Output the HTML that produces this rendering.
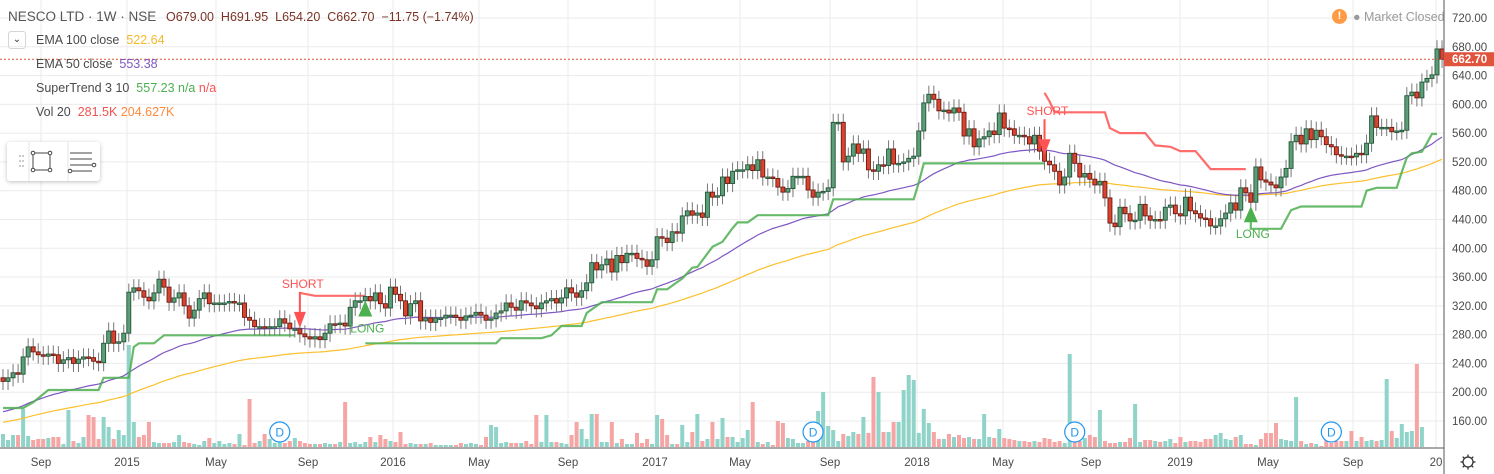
<!DOCTYPE html>
<html><head><meta charset="utf-8">
<style>
body{margin:0;background:#fff;font-family:"Liberation Sans",sans-serif;}
#wrap{position:relative;width:1494px;height:474px;overflow:hidden;background:#fff;}
svg{position:absolute;left:0;top:0;}
.leg{position:absolute;font-size:12.5px;color:#4a4a4a;white-space:nowrap;}
</style></head>
<body>
<div id="wrap">
<svg id="chart" width="1494" height="474"></svg>
<div class="leg" style="left:8px;top:9px;font-size:13.5px;color:#555">NESCO LTD · 1W · NSE <span style="margin-left:6px;color:#7a3326;font-size:12.5px">O679.00&nbsp; H691.95&nbsp; L654.20&nbsp; C662.70&nbsp; −11.75 (−1.74%)</span></div>
<div style="position:absolute;left:8px;top:31px;width:18px;height:18px;border:1px solid #d6d6d6;border-radius:3px;box-sizing:border-box;font-size:10px;text-align:center;line-height:16px;color:#333">&#8964;</div>
<div class="leg" style="left:36px;top:33px">EMA 100 close&nbsp; <span style="color:#f6b92b">522.64</span></div>
<div class="leg" style="left:36px;top:57px">EMA 50 close&nbsp; <span style="color:#7e57c2">553.38</span></div>
<div class="leg" style="left:36px;top:81px">SuperTrend 3 10&nbsp; <span style="color:#4caf50">557.23 n/a</span> <span style="color:#ff5252">n/a</span></div>
<div class="leg" style="left:36px;top:105px">Vol 20&nbsp; <span style="color:#ef5350">281.5K</span> <span style="color:#ff8a3c">204.627K</span></div>
<div style="position:absolute;left:7px;top:142px;width:93px;height:39px;background:#fff;border-radius:3px;box-shadow:0 1px 4px rgba(0,0,0,.25)">
 <svg width="93" height="39" style="position:relative">
  <g fill="#bbb"><circle cx="13" cy="14" r="1"/><circle cx="16" cy="14" r="1"/><circle cx="13" cy="19" r="1"/><circle cx="16" cy="19" r="1"/><circle cx="13" cy="24" r="1"/><circle cx="16" cy="24" r="1"/></g>
  <line x1="22" y1="0" x2="22" y2="39" stroke="#e6e6e6"/><line x1="61" y1="0" x2="61" y2="39" stroke="#e6e6e6"/>
  <g fill="#fff" stroke="#444"><rect x="26" y="11" width="17" height="17" fill="none"/><circle cx="26" cy="11" r="1.8"/><circle cx="43" cy="11" r="1.8"/><circle cx="26" cy="28" r="1.8"/><circle cx="43" cy="28" r="1.8"/></g>
  <g stroke="#444" fill="#fff"><line x1="63" y1="11" x2="85" y2="11"/><line x1="63" y1="17" x2="85" y2="17"/><line x1="63" y1="23" x2="85" y2="23"/><line x1="63" y1="29" x2="85" y2="29"/><circle cx="87" cy="23" r="1.8"/><circle cx="63" cy="29" r="1.8"/></g>
 </svg>
</div>
<div style="position:absolute;left:1332px;top:9px;width:15px;height:15px;border-radius:50%;background:#ff9b45;color:#fff;font-size:11px;font-weight:bold;text-align:center;line-height:15px">!</div>
<div class="leg" style="left:1353px;top:10px;color:#9a9a9a;font-size:12.5px">● Market Closed</div>
</div>
<script>
const closes=[215,220,227,225,249,263,256,252,250,253,252,240,245,248,240,246,249,248,243,241,268,285,268,270,282,339,
345,341,332,327,338,357,346,325,331,338,320,303,314,330,338,323,324,324,324,326,324,324,304,300,291,291,290,291,291,302,296,288,288,281,
277,274,277,273,282,295,294,296,292,318,327,327,333,327,338,323,317,346,336,327,306,323,327,299,303,297,303,303,307,307,304,300,306,307,311,307,300,302,310,313,324,318,314,327,324,320,316,324,327,330,324,331,345,338,332,341,352,
380,370,377,385,367,390,380,393,393,386,384,375,384,416,414,408,423,421,445,452,446,449,443,478,471,473,499,490,507,509,509,516,508,523,499,499,497,485,478,483,500,500,500,481,471,478,479,484,575,575,520,528,545,532,538,509,507,516,515,538,517,518,520,525,528,563,602,614,607,591,592,588,595,589,556,566,541,552,555,563,558,588,567,566,557,557,555,545,557,535,521,516,507,488,499,532,518,499,504,496,488,493,470,435,430,457,448,438,439,461,445,439,440,439,457,460,448,445,471,452,448,442,441,431,431,441,449,463,453,484,477,464,513,495,492,488,484,499,511,548,557,545,566,551,564,555,544,541,530,528,528,527,532,530,546,584,568,568,568,562,563,564,612,617,609,631,636,641,677,662.7];
const volumes=[13,7,12,12,38,11,7,8,8,9,10,10,3,37,6,4,10,32,30,8,30,20,8,17,12,102,25,10,12,25,5,4,4,4,5,12,5,4,3,2,6,9,4,6,3,4,3,13,2,48,4,6,13,8,4,6,4,6,9,6,4,3,3,3,4,3,3,5,45,4,5,3,5,10,5,12,8,6,5,15,3,4,3,3,3,4,2,2,2,2,2,4,3,4,3,2,10,22,20,4,5,4,4,4,6,3,32,5,32,5,5,4,3,12,25,18,8,33,33,5,5,25,4,8,3,3,14,4,8,3,32,28,12,3,3,22,5,15,33,6,8,
25,8,29,10,10,5,9,17,45,5,3,5,2,26,24,9,8,4,4,6,20,36,55,21,17,6,13,11,15,13,30,14,70,55,15,15,25,25,57,72,67,14,38,24,15,8,8,13,10,12,9,10,8,8,33,10,9,18,9,8,7,6,6,5,6,5,9,8,5,6,4,93,13,6,9,12,10,37,6,4,4,5,5,9,43,5,7,7,6,5,6,8,4,10,5,6,6,5,8,8,12,14,8,7,10,12,3,3,2,8,14,14,24,8,7,6,50,6,3,4,3,1,7,4,6,6,6,16,6,10,6,7,6,7,68,16,9,23,15,16,83,20];
const stGreen1=[[0,178],[4,178],[6,186],[9,203],[19,203],[20,220],[25,220],[26,263],[27,268],[30,268],[32,279],[58,279]];
const stRed1=[[59,338],[62,334],[72,334]];
const stGreen2=[[72,268],[74,268],[98,268],[99,275],[107,275],[109,279],[111,292],[115,292],[116,310],[119,325],[129,325],[130,343],[132,343],[134,353],[135,358],[137,373],[138,374],[141,402],[143,409],[145,428],[146,436],[148,436],[150,446],[164,446],[165,468],[181,468],[182,491],[183,518],[207,518]];
const stRed2=[[207,616],[208,604],[209,589],[219,589],[220,567],[222,560],[227,560],[229,543],[232,541],[234,535],[237,535],[240,510],[247,510]];
const stGreen3=[[248,450],[248,427],[254,427],[256,453],[258,458],[270,458],[271,480],[273,484],[277,484],[278,506],[279,526],[280,532],[282,534],[283,546],[284,559],[285,559]];
const priceTicks=[160,200,240,280,320,360,400,440,480,520,560,600,640,680,720];
const timeLabels=[["Sep",41],["2015",127],["May",216],["Sep",308],["2016",393],["May",479],["Sep",568],["2017",655],["May",740],["Sep",830],["2018",917],["May",1003],["Sep",1091],["2019",1180],["May",1268],["Sep",1353],["20",1436]];
const signals=[["SHORT",59,"short"],["LONG",72,"long"],["SHORT",207,"short"],["LONG",248,"long"]];
const divIdx=[55,161,213,264];

const NS="http://www.w3.org/2000/svg";
const svg=document.getElementById('chart');
const n=closes.length;
function X(i){return 3+i*(1434/(285));}
function Y(p){return 18+(720-p)*0.7196;}
function mk(t,a,parent){const e=document.createElementNS(NS,t);for(const k in a)e.setAttribute(k,a[k]);(parent||svg).appendChild(e);return e;}
priceTicks.forEach(p=>{const l=mk('line',{x1:0,x2:1444,y1:Y(p),y2:Y(p),stroke:'#ebebeb'});

});
timeLabels.forEach(t=>{const l=mk('line',{x1:t[1],x2:t[1],y1:0,y2:448,stroke:'#ebebeb'});

});
const volScale=1;
for(let i=0;i<n&&i<volumes.length;i++){
 const o=i?closes[i-1]:closes[0]-5;const up=closes[i]>=o;
 const h=volumes[i]*volScale;
 const r=mk('rect',{x:X(i)-2,y:447-h,width:4,height:h,fill:up?'#8fd3c9':'#f5a5a3'});
 
 
}
function ema(seed,len){const k=2/(len+1);let e=seed;return closes.map(c=>(e=e+k*(c-e)));}
const e100=ema(157,100),e50=ema(171,50);
function path(vals){return vals.map((v,i)=>(i?'L':'M')+X(i).toFixed(1)+' '+Y(v).toFixed(1)).join(' ');}
const p100=mk('path',{d:path(e100),stroke:'#fbc02d',fill:'none','stroke-width':1.2});


const p50=mk('path',{d:path(e50),stroke:'#7e57c2',fill:'none','stroke-width':1.2});


function stPath(pts,col,name){const d=pts.map((p,j)=>(j?'L':'M')+X(p[0]).toFixed(1)+' '+Y(p[1]).toFixed(1)).join(' ');
 const e=mk('path',{d:d,stroke:col,fill:'none','stroke-width':2.2,'stroke-opacity':0.85});
 
 }
stPath(stGreen1,'#4caf50','supertrend-up-1');stPath(stRed1,'#ff5252','supertrend-down-1');
stPath(stGreen2,'#4caf50','supertrend-up-2');stPath(stRed2,'#ff5252','supertrend-down-2');
stPath(stGreen3,'#4caf50','supertrend-up-3');
for(let i=0;i<n;i++){
 const c=closes[i],o=i?closes[i-1]:220;const up=c>=o;
 const hi=Math.max(o,c)+12,lo=Math.min(o,c)-12;
 const g=mk('g',{});
 
 
 const border=up?'#225437':'#6b1a12';
 mk('line',{x1:X(i),x2:X(i),y1:Y(hi),y2:Y(lo),stroke:'#777','stroke-width':1},g);
 const top=Y(Math.max(o,c)),hgt=Math.max(Y(Math.min(o,c))-top,1.5);
 mk('rect',{x:X(i)-2,y:top,width:4,height:hgt,fill:up?'#5c9e78':'#d9442f',stroke:border,'stroke-width':0.9},g);
}
signals.forEach(s=>{
 const i=s[1];const g=mk('g',{});
 
 
 const x=X(i);
 if(s[2]==='short'){const yb=Y(closes[i])-6;
  mk('polygon',{points:`${x-6},${yb-16} ${x+6},${yb-16} ${x},${yb}`,fill:'#ff5252'},g);
  mk('line',{x1:x,x2:x,y1:yb-16,y2:yb-36,stroke:'#ff5252','stroke-width':2},g);
  const t=mk('text',{x:x-18,y:yb-40,fill:'#ff5252','font-size':12,'font-family':'Liberation Sans'},g);t.textContent=s[0];
 }else{const yt=Y(closes[i])+4;
  mk('polygon',{points:`${x-7},${yt+16} ${x+7},${yt+16} ${x},${yt}`,fill:'#4caf50'},g);
  const t=mk('text',{x:x-15,y:yt+32,fill:'#4caf50','font-size':12,'font-family':'Liberation Sans'},g);t.textContent=s[0];}
});
divIdx.forEach(i=>{const g=mk('g',{});
 
 
 mk('circle',{cx:X(i),cy:432,r:10,fill:'#fff',stroke:'#2196f3','stroke-width':1.2},g);
 const t=mk('text',{x:X(i),y:436.5,fill:'#2196f3','font-size':12,'text-anchor':'middle','font-family':'Liberation Sans'},g);t.textContent='D';});
const lp=mk('line',{x1:0,x2:1444,y1:Y(662.7),y2:Y(662.7),stroke:'#e0533d','stroke-dasharray':'2,2'});


mk('rect',{x:1444,y:0,width:50,height:474,fill:'#fff'});
mk('rect',{x:0,y:448,width:1444,height:26,fill:'#fff'});
const ax=mk('line',{x1:1444,x2:1444,y1:0,y2:474,stroke:'#555'});


const bx=mk('line',{x1:0,x2:1444,y1:448,y2:448,stroke:'#555'});


priceTicks.forEach(p=>{const t=mk('text',{x:1452,y:Y(p)+4,fill:'#4a4a4a','font-size':11.5,'font-family':'Liberation Sans'});t.textContent=p.toFixed(2);

});
timeLabels.forEach(tl=>{const t=mk('text',{x:tl[1],y:466,fill:'#4a4a4a','font-size':11.5,'text-anchor':'middle','font-family':'Liberation Sans'});t.textContent=tl[0];

});
const pb=mk('g',{});


mk('rect',{x:1444,y:Y(662.7)-7,width:50,height:14,fill:'#e0533d'},pb);
const pt=mk('text',{x:1452,y:Y(662.7)+4,fill:'#fff','font-size':11.5,'font-weight':'bold','font-family':'Liberation Sans'},pb);pt.textContent='662.70';
const gear=mk('g',{});


mk('circle',{cx:1468,cy:462,r:5,fill:'none',stroke:'#333','stroke-width':1.3},gear);
for(let k=0;k<8;k++){const a=k*Math.PI/4;mk('line',{x1:1468+5*Math.cos(a),y1:462+5*Math.sin(a),x2:1468+7.5*Math.cos(a),y2:462+7.5*Math.sin(a),stroke:'#333','stroke-width':1.3},gear);}
</script>
</body></html>
